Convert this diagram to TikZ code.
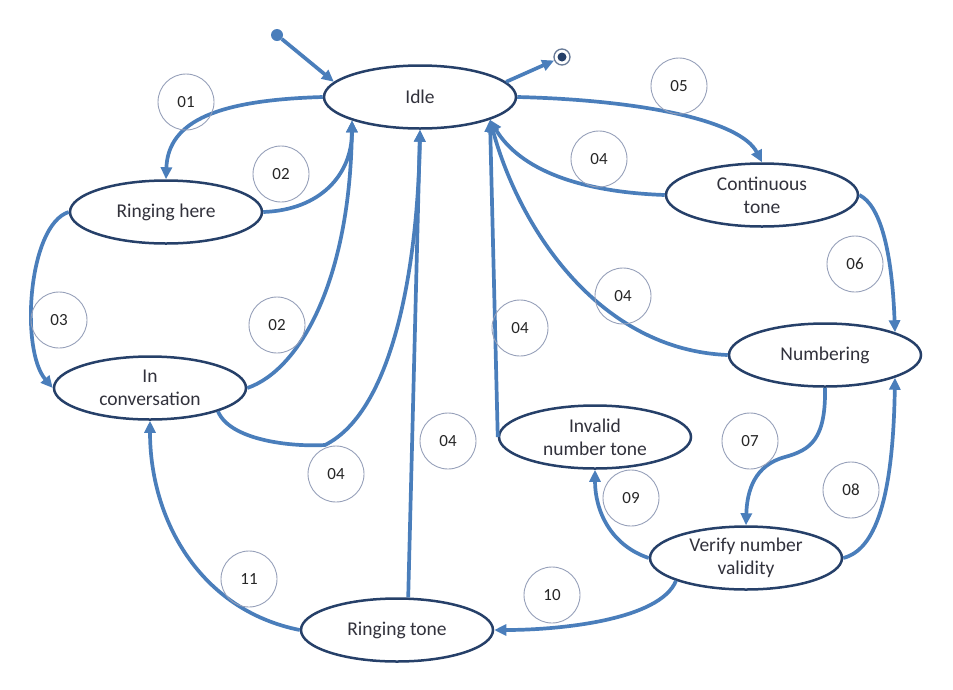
\documentclass[tikz,border=0pt]{standalone}
\usepackage{fontspec}
\setmainfont{Carlito}
\usetikzlibrary{shapes.geometric, arrows.meta}

\definecolor{wire}{RGB}{74,126,187}
\definecolor{rim}{RGB}{38,64,105}
\definecolor{ink}{RGB}{50,50,60}
\definecolor{ring}{RGB}{150,160,185}

\begin{document}
\begin{tikzpicture}[
        x=1pt,
        y=-1pt,
        >={Triangle[length=12pt,width=11pt]},
        status/.style={ellipse, draw=rim, line width=2.5pt, fill=white, minimum width=192pt, minimum height=63pt, inner sep=0pt, align=center, text=ink, font=\fontsize{19.5}{23}\selectfont},
        tag/.style={circle, draw=ring, line width=0.9pt, minimum size=56pt, inner sep=0pt, text=black!85, font=\fontsize{17}{18}\selectfont},
        trans/.style={->, draw=wire, line width=3.7pt}
    ]
    \useasboundingbox (0,0) rectangle (953,689);

    \node[status] (idle) at (420,97) {Idle};
    \node[status] (ringhere) at (166,212) {Ringing here};
    \node[status] (talk) at (150,388) {In\\conversation};
    \node[status] (contone) at (762,195) {Continuous\\tone};
    \node[status] (dialing) at (825,355) {Numbering};
    \node[status] (badnum) at (595,437) {Invalid\\number tone};
    \node[status] (verify) at (746,558) {Verify number\\validity};
    \node[status] (ringtone) at (397,630) {Ringing tone};

    \node[circle, fill=wire, minimum size=12pt, inner sep=0pt] (start) at (277,35) {};
    \node[circle, draw=rim!70, line width=1.3pt, minimum size=16pt, inner sep=0pt] (stop) at (562,57) {};
    \node[circle, fill=rim, minimum size=9pt, inner sep=0pt] (stopdot) at (stop) {};

    \draw[trans] (start) -- (idle.170);
    \draw[trans] (idle.10) -- (stop);
    \draw[trans] (idle.west) .. controls (220,100) and (168,120) .. (ringhere.north);
    \draw[trans] (ringhere.east) .. controls (320,210) and (352,175) .. (idle.199);
    \draw[trans] (talk.east) .. controls (300,370) and (350,280) .. (idle.199);
    \draw[trans] (ringhere.west) .. controls (28,225) and (20,350) .. (talk.west);
    \draw[trans] (talk.341) .. controls (230,440) and (290,447) .. (325,445) .. controls (395,410) and (418,260) .. (idle.south);
    \draw[trans] (ringtone.71) -- (idle.south);
    \draw[trans] (badnum.west) -- (idle.342);
    \draw[trans] (dialing.west) .. controls (600,350) and (520,230) .. (idle.342);
    \draw[trans] (contone.west) .. controls (580,192) and (520,170) .. (idle.342);
    \draw[trans] (idle.east) .. controls (640,100) and (740,120) .. (contone.north);
    \draw[trans] (contone.east) .. controls (880,205) and (892,250) .. (dialing.18);
    \draw[trans] (dialing.south) .. controls (826,440) and (810,450) .. (785,457) .. controls (755,465) and (747,490) .. (verify.north);
    \draw[trans] (verify.east) .. controls (875,550) and (893,500) .. (dialing.342);
    \draw[trans] (verify.west) .. controls (610,545) and (595,510) .. (badnum.south);
    \draw[trans] (verify.198) .. controls (660,620) and (560,630) .. (ringtone.east);
    \draw[trans] (ringtone.west) .. controls (200,610) and (150,520) .. (talk.south);

    \node[tag] (n01) at (186,102) {01};
    \node[tag] (n02a) at (281,174) {02};
    \node[tag] (n05) at (679,86) {05};
    \node[tag] (n04a) at (599,159) {04};
    \node[tag] (n06) at (855,264) {06};
    \node[tag] (n03) at (59,320) {03};
    \node[tag] (n02b) at (277,325) {02};
    \node[tag] (n04b) at (623,296) {04};
    \node[tag] (n04c) at (520,328) {04};
    \node[tag] (n07) at (750,441) {07};
    \node[tag] (n04d) at (448,441) {04};
    \node[tag] (n04e) at (336,474) {04};
    \node[tag] (n09) at (631,498) {09};
    \node[tag] (n08) at (851,490) {08};
    \node[tag] (n11) at (249,579) {11};
    \node[tag] (n10) at (552,595) {10};
\end{tikzpicture}
\end{document}
